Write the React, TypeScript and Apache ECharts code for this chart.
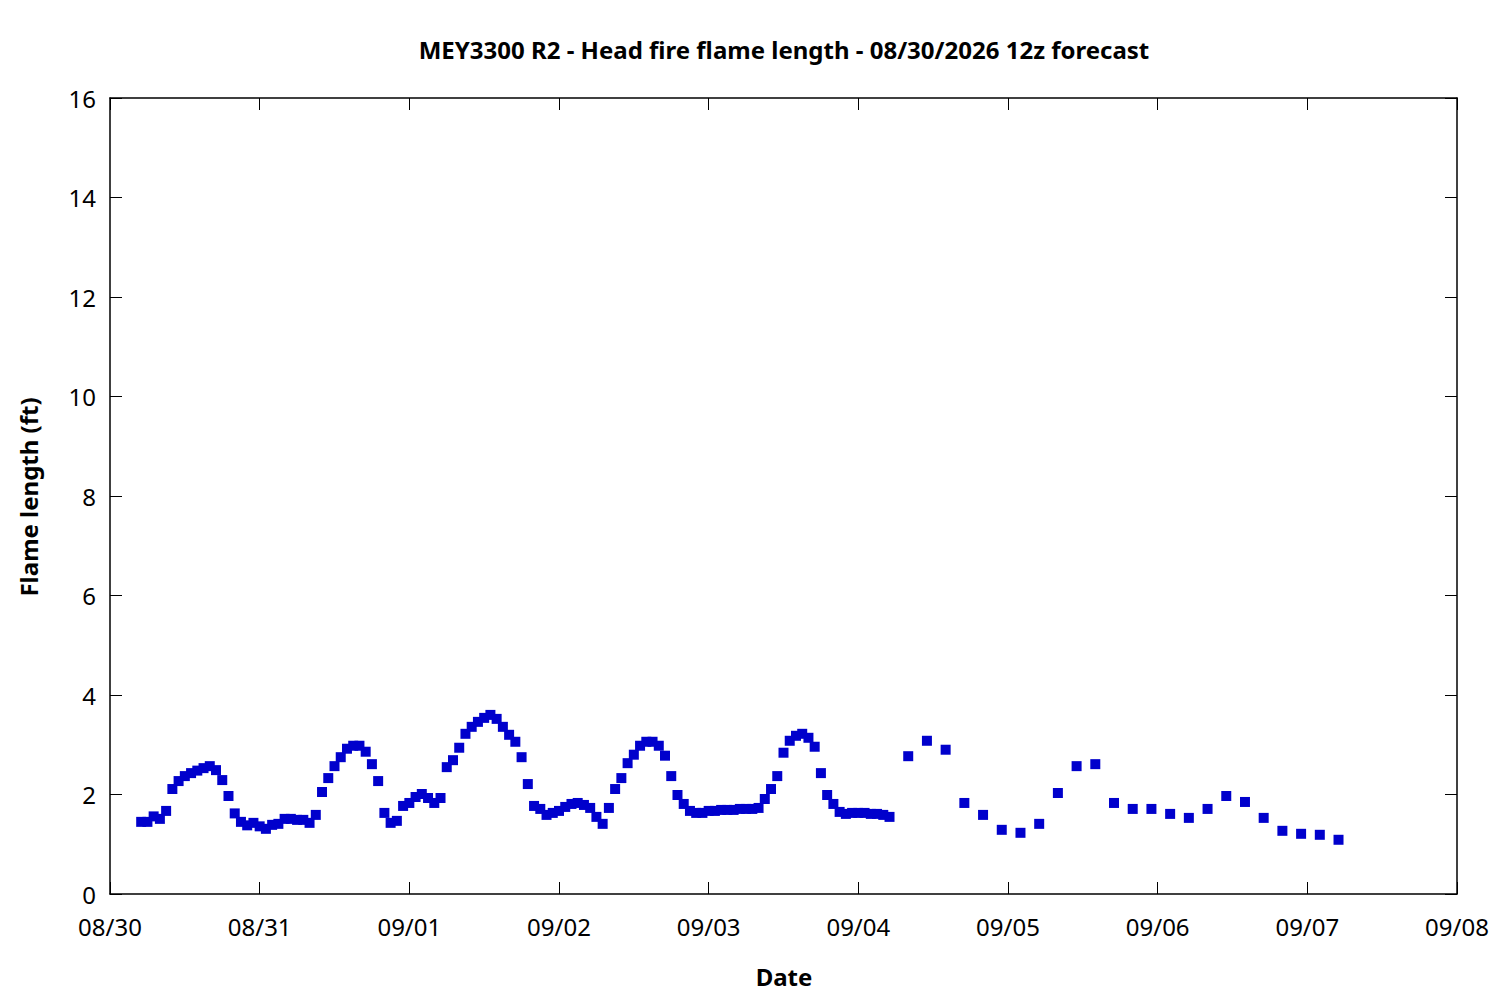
import React, { useEffect, useRef } from "react";
import * as echarts from "echarts";

const titleText = "MEY3300 R2 - Head fire flame length - 08/30/2026 12z forecast";
const xName = "Date";
const yName = "Flame length (ft)";
const dateLabels = ["08/30", "08/31", "09/01", "09/02", "09/03", "09/04", "09/05", "09/06", "09/07", "09/08"];

// hourly values starting at 08/30 05:00 (hours since 08/30 00:00)
const hourlyStart = 5;
const hourlyValues = [
  1.45, 1.45, 1.56, 1.51, 1.67, 2.11, 2.27, 2.37, 2.43, 2.48, 2.53, 2.57, 2.49, 2.29, 1.97, 1.62,
  1.45, 1.38, 1.43, 1.36, 1.31, 1.39, 1.41, 1.51, 1.51, 1.49, 1.49, 1.43, 1.59, 2.05, 2.33, 2.57,
  2.75, 2.92, 2.98, 2.98, 2.86, 2.61, 2.27, 1.63, 1.43, 1.47, 1.77, 1.83, 1.95, 2.01, 1.93, 1.83,
  1.93, 2.55, 2.69, 2.94, 3.22, 3.36, 3.46, 3.54, 3.6, 3.52, 3.36, 3.2, 3.06, 2.75, 2.21, 1.77,
  1.71, 1.59, 1.63, 1.67, 1.75, 1.81, 1.83, 1.79, 1.73, 1.55, 1.41, 1.73, 2.11, 2.33, 2.63, 2.8,
  2.98, 3.06, 3.06, 2.98, 2.78, 2.37, 1.99, 1.81, 1.67, 1.63, 1.63, 1.67, 1.67, 1.69, 1.69, 1.69,
  1.71, 1.71, 1.71, 1.73, 1.91, 2.11, 2.37, 2.84, 3.08, 3.18, 3.22, 3.14, 2.96, 2.43, 1.99, 1.81,
  1.65, 1.61, 1.63, 1.63, 1.63, 1.61, 1.61, 1.59, 1.55,
];

// 3-hourly values starting at 09/04 08:00
const threeHourlyStart = 128;
const threeHourlyStep = 3;
const threeHourlyValues = [
  2.77, 3.08, 2.9, 1.83, 1.59, 1.29, 1.23, 1.41, 2.03, 2.57, 2.61, 1.83, 1.71, 1.71, 1.61, 1.53,
  1.71, 1.97, 1.85, 1.53, 1.27, 1.21, 1.19, 1.09,
];

const FONT = "'Noto Sans', 'Open Sans', sans-serif";

export default function App() {
  const ref = useRef<HTMLDivElement>(null);
  useEffect(() => {
    if (!ref.current) return;
    const chart = echarts.init(ref.current, null, { renderer: "svg" });
    const points: number[][] = [
      ...hourlyValues.map((v, i) => [hourlyStart + i, v]),
      ...threeHourlyValues.map((v, i) => [threeHourlyStart + threeHourlyStep * i, v]),
    ];
    const axisLine = { show: true, onZero: false, lineStyle: { color: "#000", width: 1.5 } };
    const axisTick = { show: true, inside: true, length: 12, lineStyle: { color: "#000", width: 1 } };
    const labelStyle = { fontSize: 24, color: "#000", fontFamily: FONT };
    const xBase = { type: "value", min: 0, max: 216, interval: 24, axisLine, axisTick, splitLine: { show: false } };
    const yBase = { type: "value", min: 0, max: 16, interval: 2, axisLine, axisTick, splitLine: { show: false } };
    chart.setOption({
      animation: false,
      backgroundColor: "#fff",
      grid: { left: 110, top: 98, right: 43, bottom: 106, containLabel: false },
      xAxis: [
        {
          ...xBase,
          position: "bottom",
          axisLabel: { ...labelStyle, margin: 20, formatter: (v: number) => dateLabels[Math.round(v / 24)] },
        },
        { ...xBase, position: "top", axisLabel: { show: false } },
      ],
      yAxis: [
        { ...yBase, position: "left", axisLabel: { ...labelStyle, margin: 14 } },
        { ...yBase, position: "right", axisLabel: { show: false } },
      ],
      graphic: [
        {
          type: "text",
          x: 784,
          y: 49,
          style: { text: titleText, font: `bold 24px ${FONT}`, fill: "#000", textAlign: "center", textVerticalAlign: "middle" },
        },
        {
          type: "text",
          x: 784,
          y: 976,
          style: { text: xName, font: `bold 24px ${FONT}`, fill: "#000", textAlign: "center", textVerticalAlign: "middle" },
        },
        {
          type: "text",
          x: 28,
          y: 497,
          rotation: Math.PI / 2,
          style: { text: yName, font: `bold 24px ${FONT}`, fill: "#000", textAlign: "center", textVerticalAlign: "middle" },
        },
      ],
      series: [
        {
          type: "scatter",
          xAxisIndex: 0,
          yAxisIndex: 0,
          symbol: "rect",
          symbolSize: 10,
          itemStyle: { color: "#0000CC", opacity: 1 },
          data: points,
        },
      ],
    });
    return () => chart.dispose();
  }, []);
  return (
    <div
      ref={ref}
      style={{ position: "absolute", left: 0, top: 0, width: 1500, height: 1000, background: "#fff" }}
    />
  );
}
